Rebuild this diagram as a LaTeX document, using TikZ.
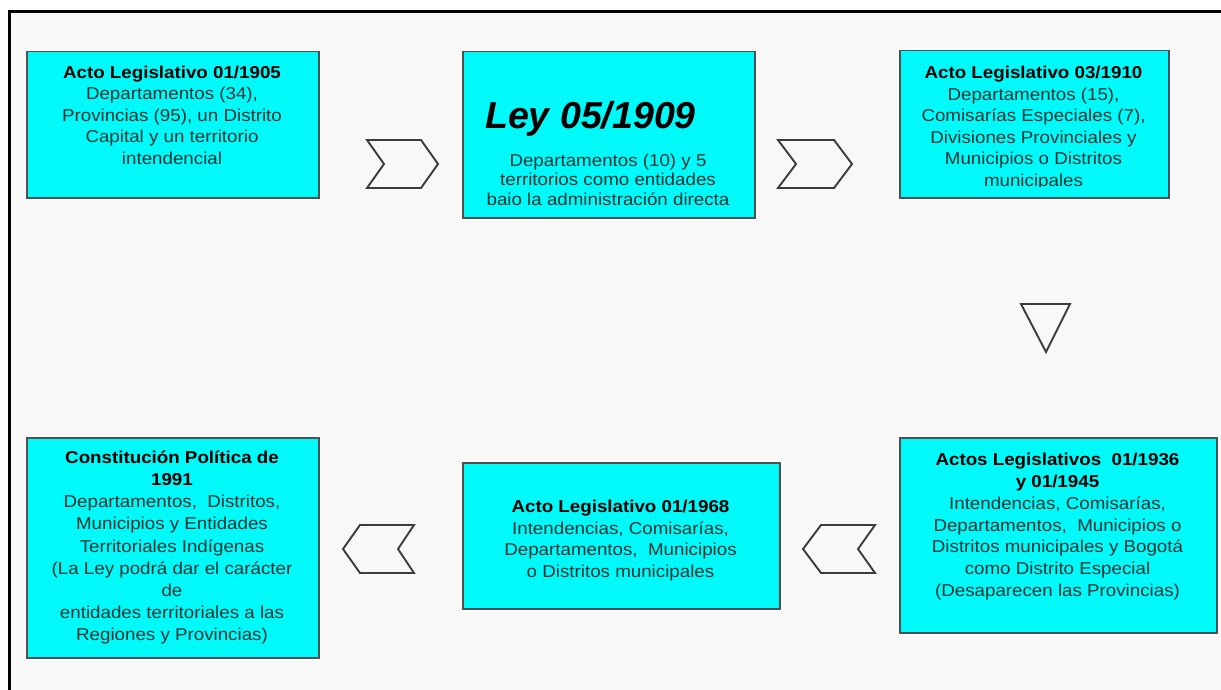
\documentclass[tikz,border=0pt]{standalone}
\usepackage{fontspec}
\setmainfont{Liberation Sans}
\newfontfamily\boxfont{Liberation Sans}[FakeStretch=1.09]

\definecolor{pagebg}{HTML}{F8F8F8}
\definecolor{boxfill}{HTML}{00FAFA}
\definecolor{boxedge}{HTML}{505050}
\definecolor{bodytext}{HTML}{123434}
\definecolor{shapeedge}{HTML}{3C3C3C}

\tikzset{
  stage/.style={draw=boxedge, line width=1.5pt, fill=boxfill, inner sep=0pt,
    anchor=north west},
  stagetext/.style={align=center, inner sep=0pt, anchor=north, text=bodytext,
    font=\boxfont\fontsize{17.2}{#1}\selectfont},
  chevron/.style={draw=shapeedge, line width=1.9pt, fill=pagebg, line join=miter},
  frameline/.style={draw=black, line width=2.6pt},
}

\begin{document}
\begin{tikzpicture}[x=1pt, y=-1pt]
  \useasboundingbox (0,0) rectangle (1221,690);
  \fill[white] (0,0) rectangle (1221,690);
  \fill[pagebg] (9.7,11.3) rectangle (1221,690);
  \draw[frameline] (9.7,690) -- (9.7,11.3) -- (1221,11.3);

  % stage boxes, top row left to right, bottom row right to left
  \node[stage, minimum width=292pt, minimum height=146pt] (b1) at (26,51) {};
  \node[stage, minimum width=292pt, minimum height=166pt] (b2) at (462,51) {};
  \node[stage, minimum width=269pt, minimum height=147pt] (b3) at (899,50) {};
  \node[stage, minimum width=317pt, minimum height=195pt] (b4) at (899,437) {};
  \node[stage, minimum width=317pt, minimum height=146pt] (b5) at (462,462) {};
  \node[stage, minimum width=292pt, minimum height=220pt] (b6) at (26,437) {};

  % texts
  \node[stagetext=21.5] (t1) at (172,65.8) {{\bfseries\color{black}Acto Legislativo 01/1905}\\
    Departamentos (34),\\ Provincias (95), un Distrito\\ Capital y un territorio\\ intendencial};

  \node[anchor=north, inner sep=0pt, text=black,
        font=\fontsize{37.5}{40}\selectfont\bfseries\itshape] (t2h) at (590.5,101.3) {Ley 05/1909};
  \node[stagetext=19.8] (t2) at (608,153.5) {Departamentos (10) y 5\\
    territorios como entidades\\ baio la administración directa};

  \begin{scope}
    \clip (899,50) rectangle (1168,186);
    \node[stagetext=21.5] (t3) at (1033.5,66.3) {{\bfseries\color{black}Acto Legislativo 03/1910}\\
      Departamentos (15),\\ Comisarías Especiales (7),\\ Divisiones Provinciales y\\
      Municipios o Distritos\\ municipales};
  \end{scope}

  \node[stagetext=21.8] (t4) at (1057.5,453) {{\bfseries\color{black}Actos Legislativos\ \ 01/1936}\\
    {\bfseries\color{black}y 01/1945}\\ Intendencias, Comisarías,\\
    Departamentos,\ \ Municipios o\\ Distritos municipales y Bogotá\\
    como Distrito Especial\\ (Desaparecen las Provincias)};

  \node[stagetext=21.5] (t5) at (620.5,500) {{\bfseries\color{black}Acto Legislativo 01/1968}\\
    Intendencias, Comisarías,\\ Departamentos,\ \ Municipios\\ o Distritos municipales};

  \node[stagetext=22.1] (t6) at (172,450.8) {{\bfseries\color{black}Constitución Política de}\\
    {\bfseries\color{black}1991}\\ Departamentos,\ \ Distritos,\\ Municipios y Entidades\\
    Territoriales Indígenas\\ (La Ley podrá dar el carácter\\ de\\
    entidades territoriales a las\\ Regiones y Provincias)};

  % chevrons between stages
  \draw[chevron] (367,140) -- (421,140) -- (438,164) -- (421,188) -- (367,188) -- (384,164) -- cycle;
  \draw[chevron] (778,140) -- (834,140) -- (852,164) -- (834,188) -- (778,188) -- (796,164) -- cycle;
  \draw[chevron] (875,525) -- (821,525) -- (803,549) -- (821,573) -- (875,573) -- (858,549) -- cycle;
  \draw[chevron] (414,525) -- (360,525) -- (343,549) -- (360,573) -- (414,573) -- (398,549) -- cycle;

  % downward triangle between the rows
  \draw[chevron] (1021,304) -- (1070,304) -- (1046,352) -- cycle;
\end{tikzpicture}
\end{document}
